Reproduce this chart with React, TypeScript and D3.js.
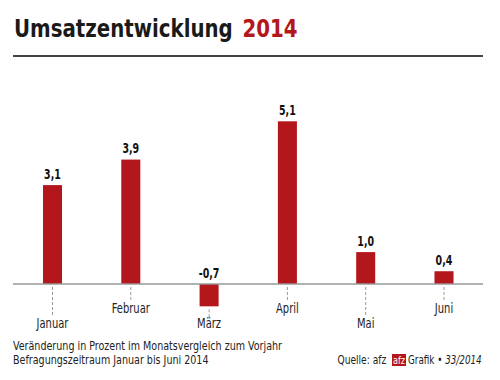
import React from "react";
import * as d3 from "d3";

const months = ["Januar", "Februar", "März", "April", "Mai", "Juni"];
const values = [3.1, 3.9, -0.7, 5.1, 1.0, 0.4];
const valueLabels = ["3,1", "3,9", "-0,7", "5,1", "1,0", "0,4"];
const titleMain = "Umsatzentwicklung";
const titleYear = "2014";
const noteLines = [
  "Veränderung in Prozent im Monatsvergleich zum Vorjahr",
  "Befragungszeitraum Januar bis Juni 2014",
];

const FONT = "'DejaVu Sans Condensed', 'Liberation Sans Narrow', 'Roboto', sans-serif";
const RED = "#b3171c";

function CText(props: {
  x: number;
  y: number;
  sx: number;
  children: React.ReactNode;
  [k: string]: any;
}) {
  const { x, y, sx, children, ...rest } = props;
  return (
    <text transform={`translate(${x},${y}) scale(${sx},1)`} {...rest}>
      {children}
    </text>
  );
}

export default function App() {
  const W = 500;
  const H = 380;
  const x = d3
    .scaleBand<string>()
    .domain(months)
    .range([13.35, 483.15])
    .paddingInner(0.757)
    .paddingOuter(0.3785);
  const y = d3.scaleLinear().domain([0, 5.1]).range([284, 121.3]);
  const y0 = y(0);

  return (
    <svg
      width={W}
      height={H}
      style={{ position: "absolute", left: 0, top: 0, background: "#fff" }}
      fontFamily={FONT}
    >
      <rect width={W} height={H} fill="#fff" />
      <CText x={14} y={36.7} sx={0.88} fontSize={25} fontWeight="bold" fill="#1a1a1a">
        {titleMain}
        <tspan dx={11} fill={RED}>{titleYear}</tspan>
      </CText>
      <line x1={13} x2={483} y1={56} y2={56} stroke="#444" strokeWidth={2.2} />

      {months.map((m, i) => {
        const v = values[i];
        const bx = x(m)!;
        const cx = bx + x.bandwidth() / 2;
        const top = Math.min(y(v), y0);
        const bottom = Math.max(y(v), y0);
        const lower = i % 2 === 0;
        const tickEnd = lower ? 317 : 302;
        const tickStart = v < 0 ? bottom + 3 : y0 + 3;
        return (
          <g key={m}>
            <rect x={bx} y={top} width={x.bandwidth()} height={bottom - top} fill={RED} />
            <line
              x1={cx}
              x2={cx}
              y1={tickStart}
              y2={tickEnd}
              stroke="#999"
              strokeWidth={1}
              strokeDasharray="3,2"
            />
            <CText
              x={cx}
              y={lower ? 328 : 313}
              sx={0.82}
              textAnchor="middle"
              fontSize={13.5}
              fill="#222"
            >
              {m}
            </CText>
            <CText
              x={cx}
              y={(v < 0 ? y0 : y(v)) - 6.5}
              sx={0.78}
              textAnchor="middle"
              fontSize={13.5}
              fontWeight="bold"
              fill="#111"
            >
              {valueLabels[i]}
            </CText>
          </g>
        );
      })}

      <line x1={13} x2={483} y1={y0} y2={y0} stroke="#999" strokeWidth={1.5} />

      {noteLines.map((t, i) => (
        <CText key={t} x={13} y={350 + i * 13.5} sx={0.885} fontSize={12} fill="#222">
          {t}
        </CText>
      ))}

      <CText x={337.5} y={363.5} sx={0.88} fontSize={11.5} fill="#222">Quelle: afz</CText>
      <rect x={392} y={354} width={14} height={12} fill={RED} />
      <CText x={399} y={363.5} sx={0.82} fontSize={11} fill="#fff" textAnchor="middle">afz</CText>
      <CText x={408} y={363.5} sx={0.85} fontSize={11.5} fill="#222">
        Grafik • <tspan fontStyle="italic">33/2014</tspan>
      </CText>
    </svg>
  );
}
